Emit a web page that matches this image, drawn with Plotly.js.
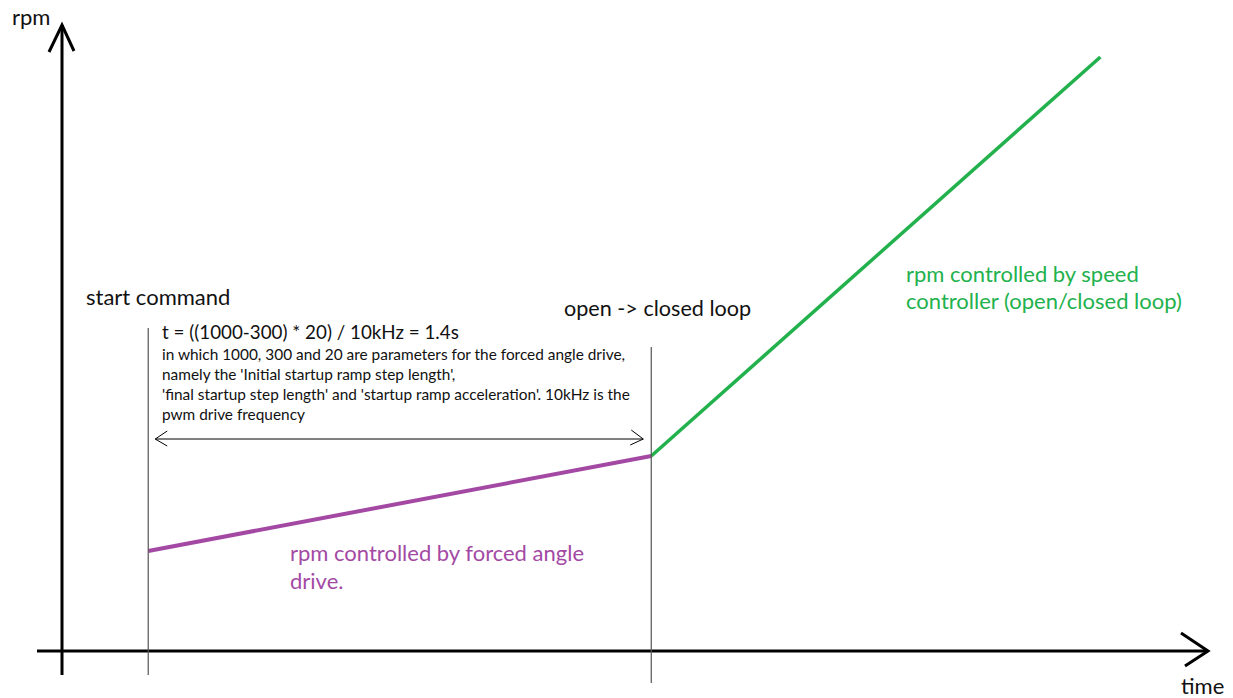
<!DOCTYPE html>
<html>
<head>
<meta charset="utf-8">
<script src="https://cdn.plot.ly/plotly-3.0.1.min.js"></script>
<style>html,body{margin:0;padding:0;background:#fff;}#chart{width:1233px;height:698px;}</style>
</head>
<body>
<div id="chart"></div>
<script>
// ---- data (time in s, rpm in arbitrary units) ----
const forcedTime = [0.24, 1.64];
const forcedRpm = [100, 195];
const speedTime = [1.64, 2.89];
const speedRpm = [195, 594];
const rampDuration = 1.4; // s, from the formula
const axisLabels = ['rpm', 'time'];
const noteTitle = 't = ((1000-300) * 20) / 10kHz = 1.4s';
const noteLines = [
  "in which 1000, 300 and 20 are parameters for the forced angle drive,",
  "namely the 'Initial startup ramp step length',",
  "'final startup step length' and 'startup ramp acceleration'. 10kHz is the",
  "pwm drive frequency"
];

const W = 1233, H = 698;
const PURPLE = '#a349a4', GREEN = '#22b14c';
const FONT = 'Lato, "Open Sans", sans-serif';
const xr = [-0.17256, 3.2591], yr = [-47, 651];
// helpers for text placement in figure pixels
const px = p => p / W;
const py = p => 1 - p / H;

const tStart = forcedTime[0], tSwitch = speedTime[0];

const traces = [
  {x: forcedTime, y: forcedRpm, mode: 'lines', line: {color: PURPLE, width: 4}, hoverinfo: 'skip'},
  {x: speedTime, y: speedRpm, mode: 'lines', line: {color: GREEN, width: 3.5}, hoverinfo: 'skip'}
];

const xTip = xr[0] + (1208 / W) * (xr[1] - xr[0]);
const xLeft = xr[0] + (37 / W) * (xr[1] - xr[0]);
const yTop = 651 - 25, yBot = 651 - 675;
const arrowY = 651 - 439;
const pxUnit = (xr[1] - xr[0]) / W;

function head(xa, ya, path, w, c) {
  return {type: 'path', xref: 'x', yref: 'y', xsizemode: 'pixel', ysizemode: 'pixel',
    xanchor: xa, yanchor: ya, path: path, line: {color: c || '#000', width: w}};
}

const shapes = [
  // axes
  {type: 'line', xref: 'x', yref: 'y', x0: 0, x1: 0, y0: yBot, y1: yTop, line: {color: '#000', width: 3}},
  {type: 'line', xref: 'x', yref: 'y', x0: xLeft, x1: xTip, y0: 0, y1: 0, line: {color: '#000', width: 3}},
  head(0, yTop, 'M-13,-27L0,0L12,-26', 3),
  head(xTip, 0, 'M-27,18L0,0L-23,-15', 3),
  // event markers
  {type: 'line', xref: 'x', yref: 'y', x0: tStart, x1: tStart, y0: 651 - 675, y1: 651 - 328, line: {color: '#555', width: 1.2}},
  {type: 'line', xref: 'x', yref: 'y', x0: tSwitch, x1: tSwitch, y0: 651 - 683, y1: 651 - 347, line: {color: '#555', width: 1.2}},
  // duration double arrow
  {type: 'line', xref: 'x', yref: 'y', x0: tStart + 7 * pxUnit, x1: tStart + rampDuration - 8 * pxUnit, y0: arrowY, y1: arrowY, line: {color: '#000', width: 1}},
  head(tStart + rampDuration - 8 * pxUnit, arrowY, 'M-12,9L0,0L-13,-6', 1),
  head(tStart + 7 * pxUnit, arrowY, 'M12,8L0,0L12,-7', 1)
];

function txt(x, y, t, size, color) {
  return {xref: 'paper', yref: 'paper', x: px(x), y: py(y), xanchor: 'left', yanchor: 'middle',
    text: t, showarrow: false, font: {family: FONT, size: size, color: color || '#111'}};
}

const BIG = 22, MID = 18.8, SMALL = 15.4;
const annotations = [
  txt(10, 17, axisLabels[0], BIG),
  txt(1179, 685, axisLabels[1], BIG),
  txt(84, 297, 'start command', BIG),
  txt(562, 308, 'open -&gt; closed loop', 21.6),
  txt(160, 331, noteTitle, MID),
  txt(160, 354, noteLines[0], SMALL),
  txt(160, 374, noteLines[1], SMALL),
  txt(160, 394, noteLines[2], SMALL),
  txt(160, 414, noteLines[3], SMALL),
  txt(288, 552, 'rpm controlled by forced angle', BIG, PURPLE),
  txt(288, 580, 'drive.', BIG, PURPLE),
  txt(904, 273, 'rpm controlled by speed', BIG, GREEN),
  txt(904, 300, 'controller (open/closed loop)', BIG, GREEN)
];

const layout = {
  width: W, height: H, autosize: false,
  margin: {l: 0, r: 0, t: 0, b: 0, pad: 0},
  paper_bgcolor: '#fff', plot_bgcolor: '#fff',
  showlegend: false,
  xaxis: {range: xr, visible: false, fixedrange: true},
  yaxis: {range: yr, visible: false, fixedrange: true},
  shapes: shapes,
  annotations: annotations
};

Plotly.newPlot('chart', traces, layout, {staticPlot: true, displayModeBar: false});
</script>
</body>
</html>
